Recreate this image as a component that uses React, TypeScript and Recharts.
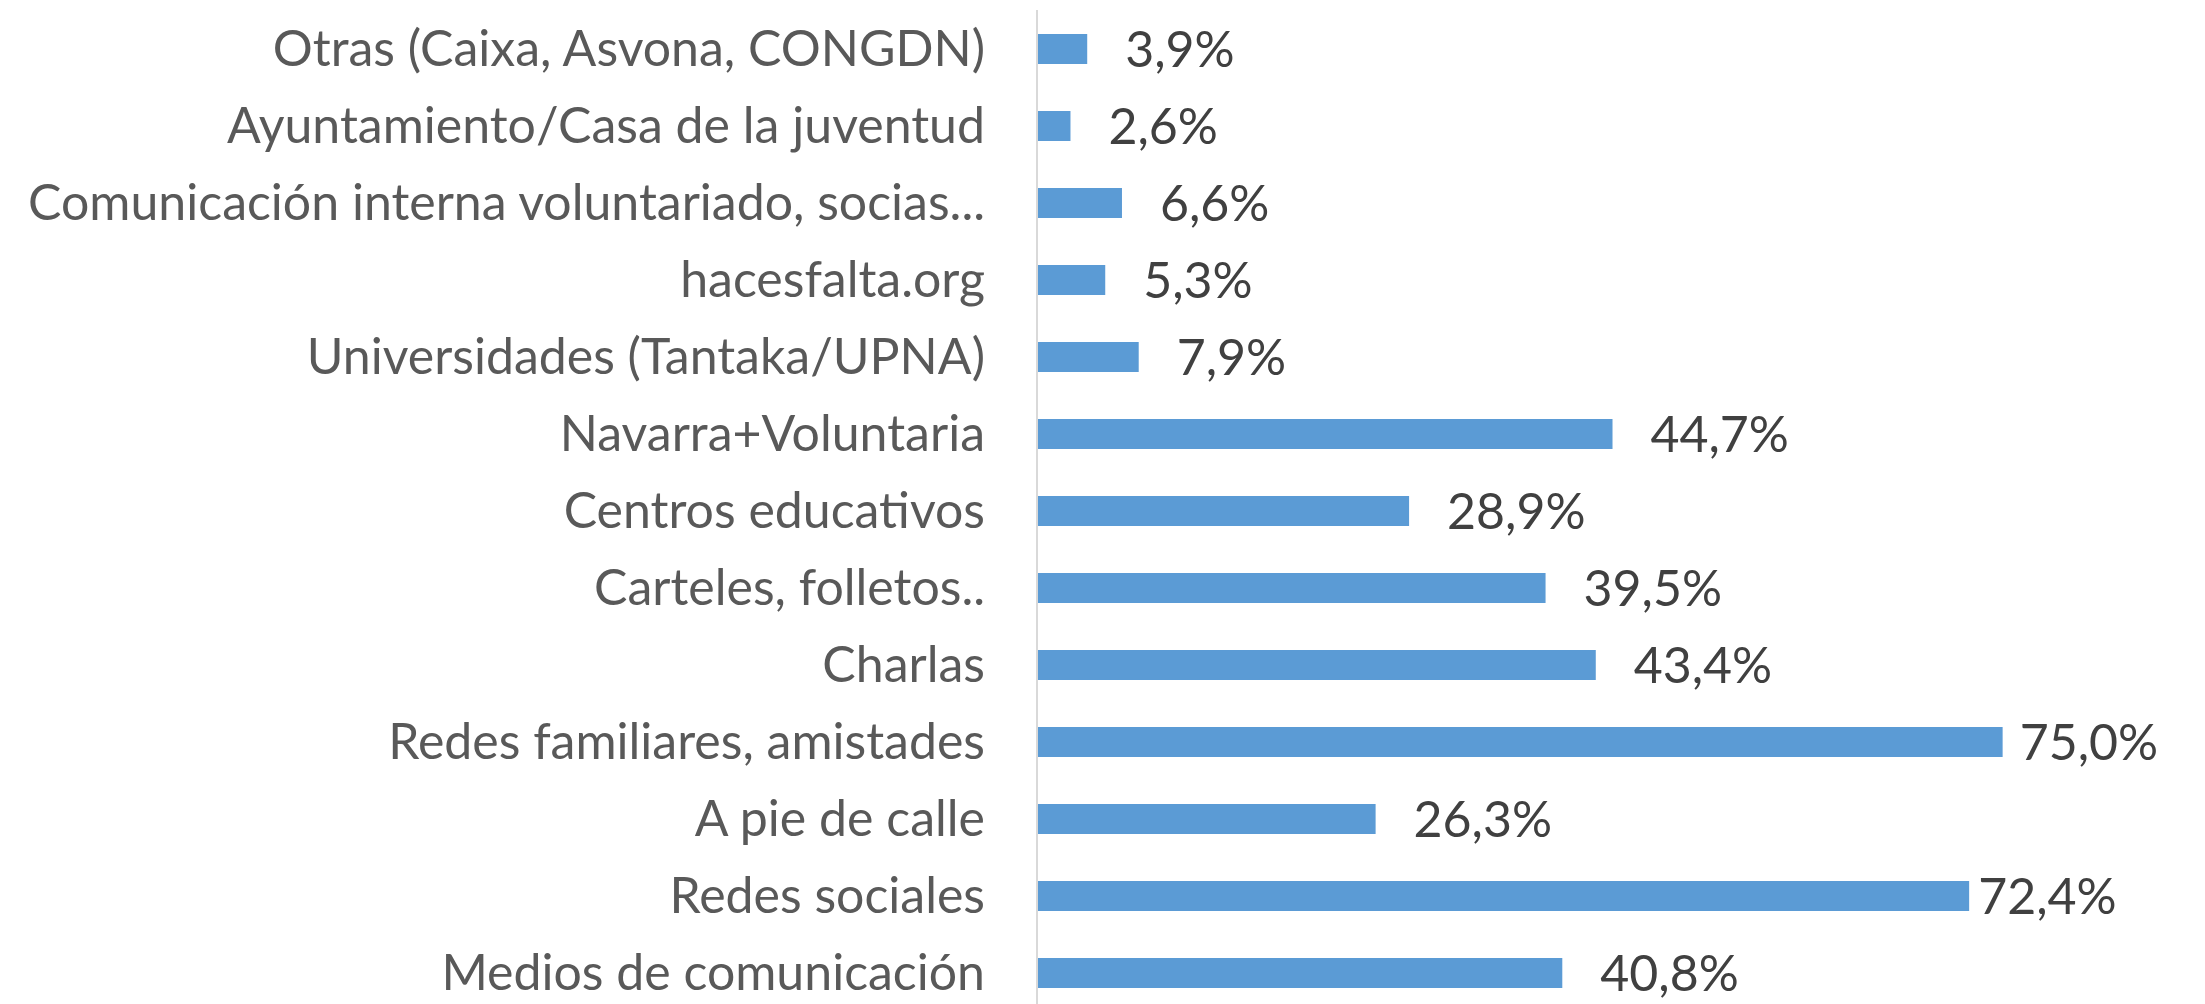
import React from 'react';
import { Bar, BarChart, LabelList, XAxis, YAxis } from 'recharts';

const categories = [
  'Otras (Caixa, Asvona, CONGDN)',
  'Ayuntamiento/Casa de la juventud',
  'Comunicación interna voluntariado, socias...',
  'hacesfalta.org',
  'Universidades (Tantaka/UPNA)',
  'Navarra+Voluntaria',
  'Centros educativos',
  'Carteles, folletos..',
  'Charlas',
  'Redes familiares, amistades',
  'A pie de calle',
  'Redes sociales',
  'Medios de comunicación',
];

const values = [3.9, 2.6, 6.6, 5.3, 7.9, 44.7, 28.9, 39.5, 43.4, 75.0, 26.3, 72.4, 40.8];

const data = categories.map((name, i) => ({ name, value: values[i] }));

const fmt = (v) => `${Number(v).toFixed(1).replace('.', ',')}%`;

// excel pulls the labels of the longest bars in towards the bar end
const renderLabel = (props) => {
  const { x, y, width, height, value } = props;
  const gap = value > 70 ? (value > 74 ? 17 : 9) : 38;
  return (
    <text
      x={x + width + gap}
      y={y + height / 2}
      dy="0.355em"
      textAnchor="start"
      fill="#404040"
      fontSize={50}
      fontFamily="Lato"
    >
      {fmt(value)}
    </text>
  );
};

export default function App() {
  return (
    <div style={{ position: 'absolute', top: 0, left: 0, width: 2205, height: 1004, overflow: 'hidden', background: '#fff' }}>
      <BarChart
        layout="vertical"
        width={2205}
        height={1012}
        data={data}
        margin={{ top: 10, right: 138, left: 0, bottom: 1 }}
      >
        <XAxis type="number" domain={[0, 80]} hide />
        <YAxis
          type="category"
          dataKey="name"
          width={1037}
          interval={0}
          tickLine={false}
          tickSize={0}
          tickMargin={52}
          axisLine={{ stroke: '#D9D9D9', strokeWidth: 2 }}
          tick={{ fill: '#595959', fontSize: 50, fontFamily: 'Lato' }}
        />
        <Bar dataKey="value" fill="#5B9BD5" barSize={30} isAnimationActive={false}>
          <LabelList dataKey="value" content={renderLabel} />
        </Bar>
      </BarChart>
    </div>
  );
}
